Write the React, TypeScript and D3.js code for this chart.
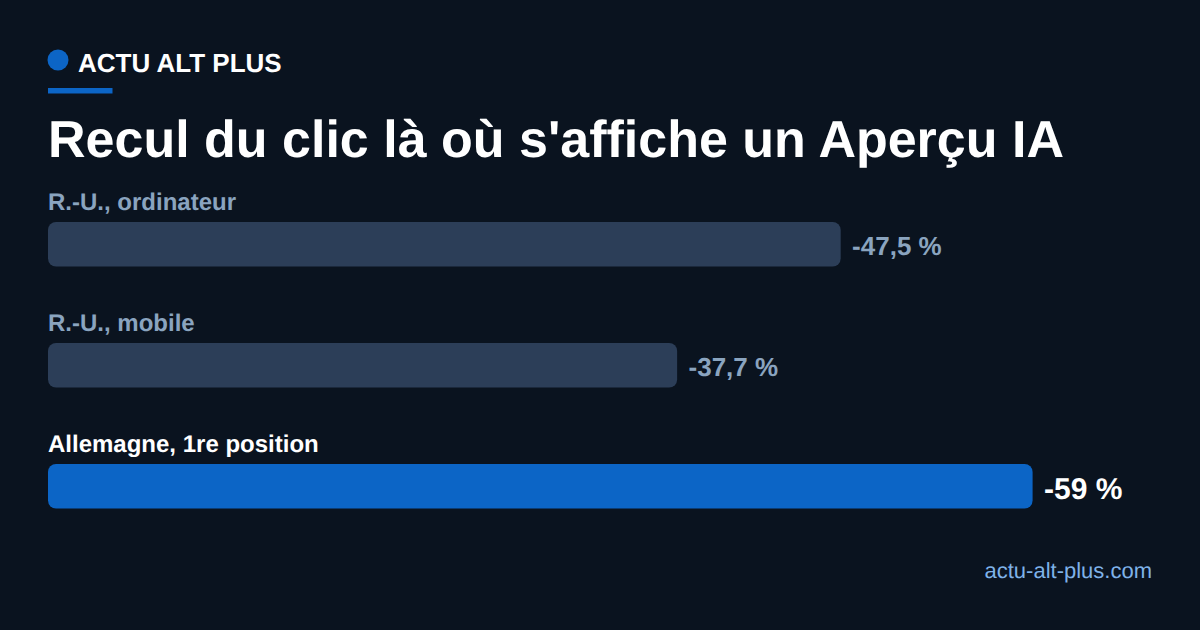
import React from "react";
import * as d3 from "d3";

const categories = ["R.-U., ordinateur", "R.-U., mobile", "Allemagne, 1re position"];
const values = [47.5, 37.7, 59];
const valueLabels = ["-47,5 %", "-37,7 %", "-59 %"];
const highlighted = [false, false, true];

const F = "'Liberation Sans', Arial, sans-serif";

export default function App() {
  const x = d3.scaleLinear().domain([0, 59]).range([0, 984.6]);
  const y = d3.scaleBand<number>().domain([0, 1, 2]).range([222, 585]).paddingInner(0).paddingOuter(0);
  return (
    <svg width={1200} height={630} viewBox="0 0 1200 630" textRendering="geometricPrecision" style={{ position: "fixed", left: 0, top: 0, display: "block" }}>
      <rect width={1200} height={630} fill="#0a131f" />
      <circle cx={58} cy={60} r={10.5} fill="#0c65c6" />
      <text x={78} y={72} fontFamily={F} fontWeight={700} fontSize={26} fill="#ffffff">ACTU ALT PLUS</text>
      <rect x={48} y={88} width={64.5} height={5.5} fill="#0c65c6" />
      <text x={48} y={157} fontFamily={F} fontWeight={700} fontSize={52} fill="#ffffff">Recul du clic là où s'affiche un Aperçu IA</text>
      {categories.map((c, i) => {
        const top = y(i)!;
        const hi = highlighted[i];
        const w = x(values[i]);
        return (
          <g key={c}>
            <text x={48} y={top - 12} fontFamily={F} fontWeight={700} fontSize={24} fill={hi ? "#ffffff" : "#8aa4bf"}>{c}</text>
            <rect x={48} y={top} width={w} height={44.5} rx={8} fill={hi ? "#0c65c6" : "#2c3e58"} />
            <text x={48 + w + 11.4} y={top + (hi ? 35 : 33)} fontFamily={F} fontWeight={700} fontSize={hi ? 30 : 26} fill={hi ? "#ffffff" : "#8aa4bf"}>{valueLabels[i]}</text>
          </g>
        );
      })}
      <text x={1152} y={578} textAnchor="end" fontFamily={F} fontSize={22} fill="#7fb2e8">actu-alt-plus.com</text>
    </svg>
  );
}
